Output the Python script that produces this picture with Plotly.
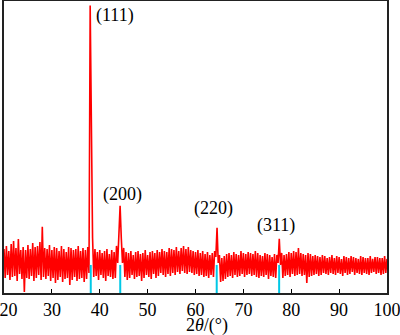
import numpy as np
import plotly.graph_objects as go

# XRD scan: 2theta from 20 to 100 deg at 0.25 deg step
scan_start = 20.0
scan_step = 0.25

# Intensity (arbitrary units), one row per degree: x.00, x.25, x.50, x.75
intensity = [
    44, 15, 47, 18,   # 20
    42, 13, 49, 16,   # 21
    52, 17, 45, 12,   # 22
    54, 19, 43, 14,   # 23
    46, 1, 43, 15,    # 24
    48, 14, 44, 17,   # 25
    50, 12, 46, 15,   # 26
    47, 18, 51, 13,   # 27
    66, 16, 45, 14,   # 28
    44, 17, 48, 12,   # 29
    43, 15, 46, 10,   # 30
    45, 13, 42, 16,   # 31
    47, 11, 44, 14,   # 32
    41, 15, 46, 8,    # 33
    45, 13, 43, 16,   # 34
    44, 12, 47, 14,   # 35
    42, 15, 45, 11,   # 36
    43, 14, 46, 20,   # 37
    287, 140, 55, 16, # 38
    44, 17, 41, 13,   # 39
    43, 18, 40, 15,   # 40
    42, 12, 44, 17,   # 41
    39, 16, 43, 14,   # 42
    41, 15, 47, 30,   # 43
    66, 87, 55, 30,   # 44
    45, 16, 41, 13,   # 45
    40, 15, 42, 18,   # 46
    38, 14, 41, 16,   # 47
    42, 17, 39, 12,   # 48
    40, 15, 43, 18,   # 49
    38, 16, 41, 14,   # 50
    42, 19, 40, 15,   # 51
    43, 17, 41, 20,   # 52
    44, 18, 42, 16,   # 53
    41, 19, 45, 17,   # 54
    44, 20, 43, 18,   # 55
    46, 21, 42, 19,   # 56
    45, 22, 47, 20,   # 57
    44, 19, 46, 21,   # 58
    43, 20, 42, 18,   # 59
    41, 19, 43, 17,   # 60
    40, 18, 42, 16,   # 61
    39, 17, 41, 15,   # 62
    38, 18, 40, 16,   # 63
    42, 36, 65, 30,   # 64
    38, 11, 35, 12,   # 65
    37, 14, 39, 16,   # 66
    40, 17, 38, 15,   # 67
    41, 18, 39, 16,   # 68
    38, 17, 42, 19,   # 69
    40, 16, 39, 18,   # 70
    41, 19, 40, 17,   # 71
    39, 18, 42, 16,   # 72
    40, 15, 38, 17,   # 73
    37, 16, 40, 18,   # 74
    39, 14, 38, 17,   # 75
    36, 16, 39, 15,   # 76
    38, 30, 54, 28,   # 77
    40, 15, 38, 17,   # 78
    39, 18, 41, 16,   # 79
    40, 19, 42, 17,   # 80
    41, 18, 45, 19,   # 81
    40, 17, 39, 18,   # 82
    38, 10, 40, 16,   # 83
    39, 17, 37, 18,   # 84
    38, 19, 37, 17,   # 85
    36, 18, 38, 20,   # 86
    37, 19, 35, 18,   # 87
    36, 20, 38, 19,   # 88
    35, 18, 37, 20,   # 89
    36, 19, 34, 17,   # 90
    37, 20, 36, 18,   # 91
    35, 19, 37, 21,   # 92
    36, 18, 35, 20,   # 93
    34, 19, 37, 18,   # 94
    36, 20, 35, 19,   # 95
    35, 18, 37, 20,   # 96
    34, 21, 36, 19,   # 97
    36, 20, 35, 18,   # 98
    35, 19, 37, 20,   # 99
    34,               # 100
]
two_theta = scan_start + scan_step * np.arange(len(intensity))

# Standard (reference card) line positions and peak labels
ref_positions = [38.12, 44.28, 64.43, 77.47]
ref_height = 28
peak_labels = ["(111)", "(200)", "(220)", "(311)"]
label_x = [43.1, 44.7, 63.7, 76.8]
label_y = [277, 98, 84, 67]

x_ticks = [20, 30, 40, 50, 60, 70, 80, 90, 100]
x_ticktext = ["\u2007" + str(x_ticks[0])] + [str(t) for t in x_ticks[1:]]

FONT = "Liberation Serif"

fig = go.Figure()
fig.add_trace(go.Scatter(
    x=two_theta, y=intensity, mode="lines",
    line=dict(color="#ff0000", width=1.6), hoverinfo="skip", showlegend=False,
))

sx, sy = [], []
for p in ref_positions:
    sx += [p, p, None]
    sy += [0, ref_height, None]
fig.add_trace(go.Scatter(
    x=sx, y=sy, mode="lines",
    line=dict(color="#00c8e6", width=2), hoverinfo="skip", showlegend=False,
))

for txt, lx, ly in zip(peak_labels, label_x, label_y):
    fig.add_annotation(x=lx, y=ly, xref="x", yref="y", text=txt, showarrow=False,
                       font=dict(family=FONT, size=18, color="black"))

fig.add_annotation(x=0.53, y=-0.1115, xref="paper", yref="paper",
                   text="2<i>θ</i>/(°)", showarrow=False,
                   xanchor="center", yanchor="middle",
                   font=dict(family=FONT, size=18, color="black"))

fig.update_layout(
    width=400, height=335,
    margin=dict(l=4, r=13, t=1, b=42, autoexpand=False),
    paper_bgcolor="white", plot_bgcolor="white",
    font=dict(family=FONT, size=18, color="black"),
    xaxis=dict(
        range=[20, 100], tickvals=x_ticks, ticktext=x_ticktext,
        ticks="inside", ticklen=4, tickwidth=1, tickcolor="black",
        ticklabeloverflow="allow", automargin=False,
        showline=True, linecolor="#222", linewidth=1.5, mirror=True,
        showgrid=False, zeroline=False,
        tickfont=dict(family=FONT, size=18, color="black"),
    ),
    yaxis=dict(
        range=[0, 291.5], showticklabels=False, ticks="", automargin=False,
        showline=True, linecolor="#222", linewidth=1.5, mirror=True,
        showgrid=False, zeroline=False,
    ),
)

fig.write_html(
    "out.html",
    config={"displayModeBar": False},
    post_script="document.body.style.margin='0';document.body.style.padding='0';",
)
